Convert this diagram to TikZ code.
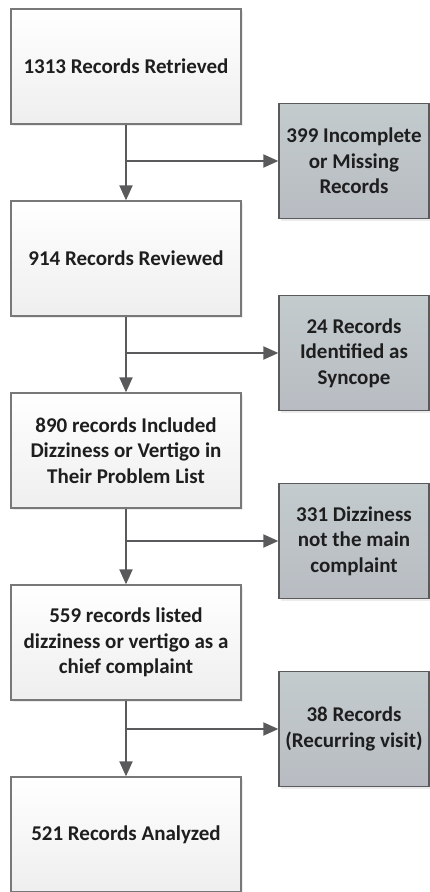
\documentclass[tikz,border=0pt]{standalone}
\usepackage{fontspec}
\setmainfont{Carlito}
\usepackage{tikz}
\usetikzlibrary{positioning}
\usetikzlibrary{arrows.meta,shadows}

\definecolor{edgegray}{RGB}{120,120,120}
\definecolor{sidetop}{RGB}{195,203,205}
\definecolor{sidebot}{RGB}{184,188,194}
\definecolor{linegray}{RGB}{90,90,92}
\definecolor{textgray}{RGB}{30,30,30}

\begin{document}
\begin{tikzpicture}[x=1pt, y=-1pt,
        mainbox/.style={shape=rectangle, draw=edgegray, line width=1.3pt, top color=white, bottom color=gray!13,
            minimum width=230pt, minimum height=115pt, inner sep=0pt, align=center, text=textgray,
            font=\fontsize{21}{25.5}\selectfont\bfseries,
            drop shadow={opacity=0.15, shadow xshift=2pt, shadow yshift=-2pt}},
        sidebox/.style={shape=rectangle, draw=linegray, line width=1.3pt, top color=sidetop, bottom color=sidebot,
            minimum width=150pt, minimum height=115pt, inner sep=0pt, align=center, text=textgray,
            font=\fontsize{21}{25.5}\selectfont\bfseries,
            drop shadow={opacity=0.15, shadow xshift=2pt, shadow yshift=-2pt}},
        flow/.style={draw=linegray, line width=2pt, -{Triangle[length=15pt, width=13pt]}}]
        \useasboundingbox (0,0) rectangle (430,892);

        % main steps
        \node (b1) at (126,66.5) [mainbox] {1313 Records Retrieved};
        \node (b2) at (126,258.5) [mainbox] {914 Records Reviewed};
        \node (b3) at (126,450.5) [mainbox] {890 records Included\\Dizziness or Vertigo in\\Their Problem List};
        \node (b4) at (126,642.5) [mainbox] {559 records listed\\dizziness or vertigo as a\\chief complaint};
        \node (b5) at (126,834.5) [mainbox] {521 Records Analyzed};

        % excluded
        \node (s1) at (354,161) [sidebox] {399 Incomplete\\or Missing\\Records};
        \node (s2) at (354,353) [sidebox] {24 Records\\Identified as\\Syncope};
        \node (s3) at (354,541) [sidebox] {331 Dizziness\\not the main\\complaint};
        \node (s4) at (354,729) [sidebox] {38 Records\\(Recurring visit)};

        % connections
        \draw[flow] (b1) -- (b2);
        \draw[flow] (b2) -- (b3);
        \draw[flow] (b3) -- (b4);
        \draw[flow] (b4) -- (b5);
        \draw[flow] (b1.south |- s1.west) -- (s1.west);
        \draw[flow] (b2.south |- s2.west) -- (s2.west);
        \draw[flow] (b3.south |- s3.west) -- (s3.west);
        \draw[flow] (b4.south |- s4.west) -- (s4.west);
    \end{tikzpicture}
\end{document}
